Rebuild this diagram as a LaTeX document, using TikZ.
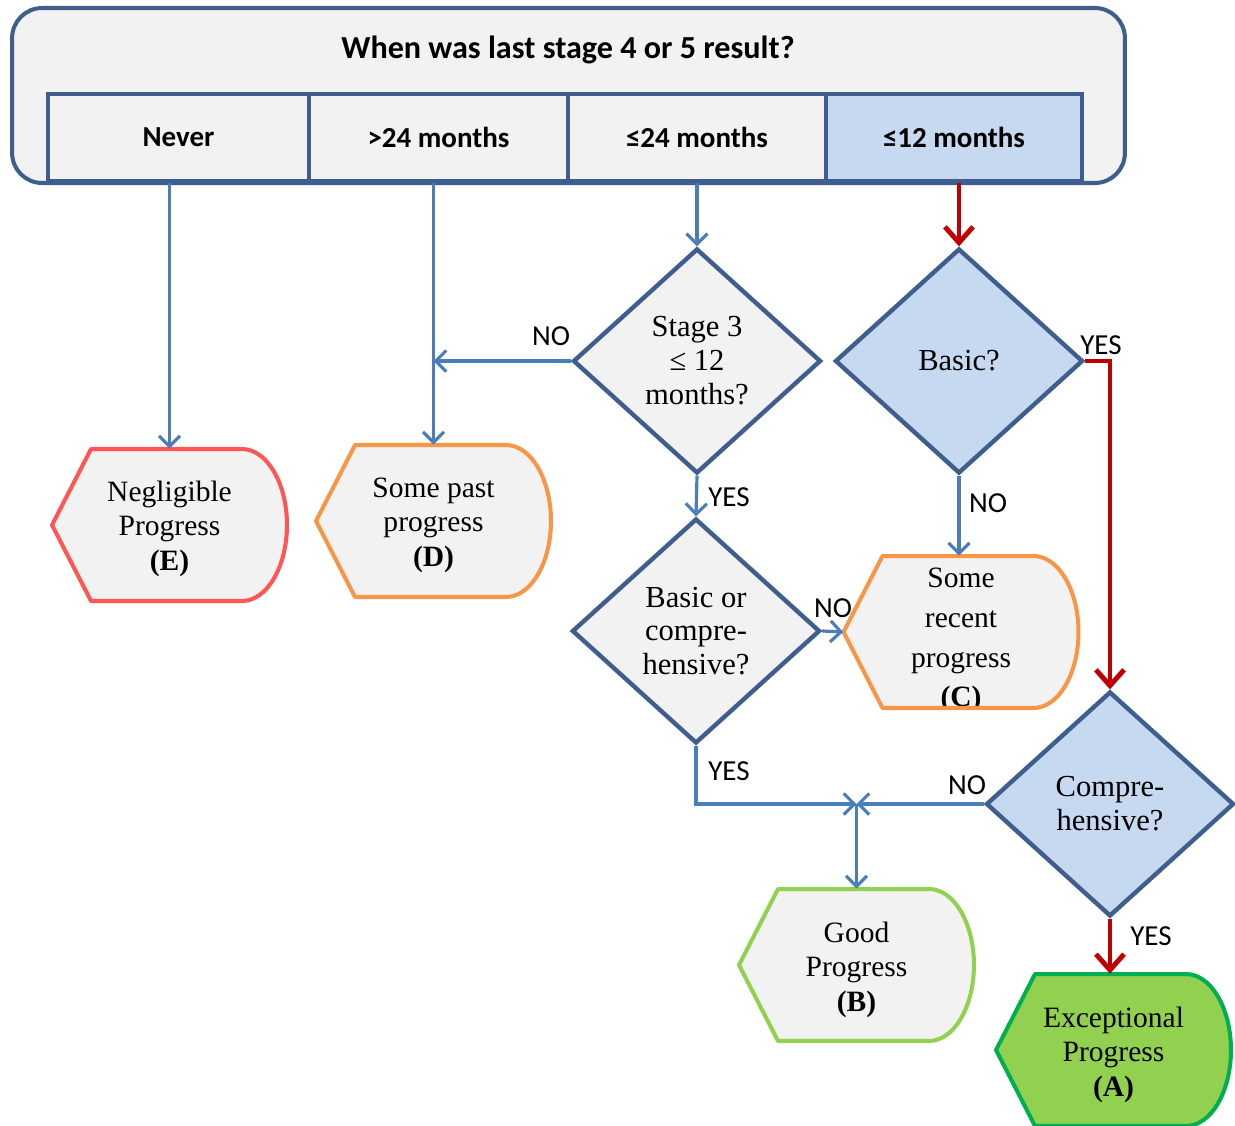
\documentclass[tikz,border=0pt]{standalone}
\usepackage{fontspec}
\setmainfont{Liberation Serif}
\newfontfamily\carlito{Carlito}
\usetikzlibrary{shapes.geometric,arrows.meta,calc}
\definecolor{dkblue}{HTML}{3E5F8E}
\definecolor{lnblue}{HTML}{4A7EBB}
\definecolor{lnred}{HTML}{C00000}
\definecolor{grayfill}{HTML}{F2F2F2}
\definecolor{ltblue}{HTML}{C6D9F1}
\definecolor{eRed}{HTML}{FF5555}
\definecolor{orng}{HTML}{F79646}
\definecolor{ltgreen}{HTML}{92D050}
\definecolor{dkgreen}{HTML}{00B050}
\newcommand{\dispath}[1]{([xshift=-2.35cm]#1) -- ([xshift=-1.57cm,yshift=1.52cm]#1) -- ([xshift=1.45cm,yshift=1.52cm]#1) arc[start angle=90,end angle=-90,x radius=0.9cm,y radius=1.52cm] -- ([xshift=-1.57cm,yshift=-1.52cm]#1) -- cycle}
% name, center, draw colour, fill colour, text, text yshift, font
\newcommand{\dispnode}[7]{%
  \fill[#4] \dispath{#2};
  \node[dispbox] (#1) at (#2) {};
  \begin{scope}
    \clip \dispath{#2};
    \node[disptext, font=#7, yshift=#6] (#1t) at (#2) {#5};
  \end{scope}
  \draw[#3, line width=2.3pt, line join=round] \dispath{#2};
}
\newcommand{\shapefont}{\fontsize{16.8}{19.6}\selectfont}
\begin{document}
\begin{tikzpicture}[x=0.02cm, y=-0.02cm,
  cell/.style={draw=dkblue, line width=1.8pt, fill=grayfill, minimum height=1.74cm,
    inner sep=0pt, font=\carlito\bfseries\fontsize{16.5}{19}\selectfont},
  dia/.style={diamond, draw=dkblue, line width=2.5pt, line join=miter, inner sep=0pt,
    minimum width=4.96cm, minimum height=4.5cm, align=center,
    font=\fontsize{17.4}{19.3}\selectfont},
  dispbox/.style={rectangle, draw=none, minimum width=4.7cm, minimum height=3.04cm, inner sep=0pt},
  disptext/.style={align=center, inner sep=0pt},
  lbl/.style={font=\carlito\fontsize{16.5}{19}\selectfont, inner sep=0pt},
  barrow/.style={draw=lnblue, line width=1.8pt, -{Straight Barb[length=6pt,width=12pt]}},
  rarrow/.style={draw=lnred, line width=2.8pt, -{Straight Barb[length=9pt,width=16pt]}}
]
\useasboundingbox (0,0) rectangle (1235,1126);

% header
\node[draw=dkblue, line width=2.3pt, fill=grayfill, rounded corners=0.6cm,
  minimum width=22.26cm, minimum height=3.5cm, inner sep=0pt] (hdr) at (568.5,95.5) {};
\node[font=\carlito\bfseries\fontsize{18.3}{21}\selectfont, inner sep=0pt] (title) at (568,50)
  {When was last stage 4 or 5 result?};
\node[cell, minimum width=5.22cm] (never) at (178.5,137.5) {Never};
\node[cell, minimum width=5.18cm] (gt24) at (438.5,137.5) {>24 months};
\node[cell, minimum width=5.16cm] (le24) at (697,137.5) {≤24 months};
\node[cell, minimum width=5.12cm, fill=ltblue] (le12) at (954,137.5) {≤12 months};

% diamonds
\node[dia, fill=grayfill] (S3) at (697,361) {Stage 3\\≤ 12\\months?};
\node[dia, fill=ltblue] (Basic) at (959,361) {Basic?};
\node[dia, fill=grayfill] (BC) at (696,631) {Basic or\\compre-\\hensive?};
\node[dia, fill=ltblue] (Comp) at (1110,804) {Compre-\\hensive?};

% outcome shapes
\coordinate (Ec) at (169.5,525);
\coordinate (Dc) at (433.5,521);
\coordinate (Cc) at (961,632);
\coordinate (Bc) at (856.5,965);
\coordinate (Ac) at (1113.5,1050);
\dispnode{E}{Ec}{eRed}{grayfill}{Negligible\\Progress\\\textbf{(E)}}{-0.07cm}{\shapefont}
\dispnode{D}{Dc}{orng}{grayfill}{Some past\\progress\\\textbf{(D)}}{-0.08cm}{\shapefont}
\dispnode{C}{Cc}{orng}{grayfill}{Some\\recent\\progress\\\textbf{(C)}}{-0.17cm}{\fontsize{16.8}{22.7}\selectfont}
\dispnode{B}{Bc}{ltgreen}{grayfill}{Good\\Progress\\\textbf{(B)}}{-0.09cm}{\shapefont}
\dispnode{A}{Ac}{dkgreen}{ltgreen}{Exceptional\\Progress\\\textbf{(A)}}{-0.09cm}{\shapefont}

% connectors
\draw[barrow] (E.north |- never.south) -- (E.north);
\draw[barrow] (D.north |- gt24.south) -- (D.north);
\draw[barrow] (S3.north |- le24.south) -- (S3.north);
\draw[rarrow] (Basic.north |- le12.south) -- (Basic.north);
\coordinate (jD) at (D.north |- S3.west);
\draw[barrow] (S3.west) -- (jD);
\draw[barrow] (S3.south) -- (BC.north);
\draw[barrow] (Basic.south) -- (Basic.south |- C.north);
\coordinate (rk) at (Comp.north |- Basic.east);
\draw[rarrow] (Basic.east) -- (rk) -- (Comp.north);
\draw[barrow] (BC.east) -- (C.west);
\coordinate (J) at (B.north |- Comp.west);
\coordinate (bk) at (BC.south |- J);
\draw[barrow] (BC.south) -- (bk) -- (J);
\draw[barrow] (Comp.west) -- (J);
\draw[barrow] (J) -- (B.north);
\draw[rarrow] (Comp.south) -- (Comp.south |- A.north);

% labels
\node[lbl] (l1) at (551,336) {NO};
\node[lbl] (l2) at (729,497) {YES};
\node[lbl] (l3) at (1101,345) {YES};
\node[lbl] (l4) at (988,503) {NO};
\node[lbl] (l5) at (833,608) {NO};
\node[lbl] (l6) at (729,771) {YES};
\node[lbl] (l7) at (967,785) {NO};
\node[lbl] (l8) at (1151,936) {YES};
\end{tikzpicture}
\end{document}
